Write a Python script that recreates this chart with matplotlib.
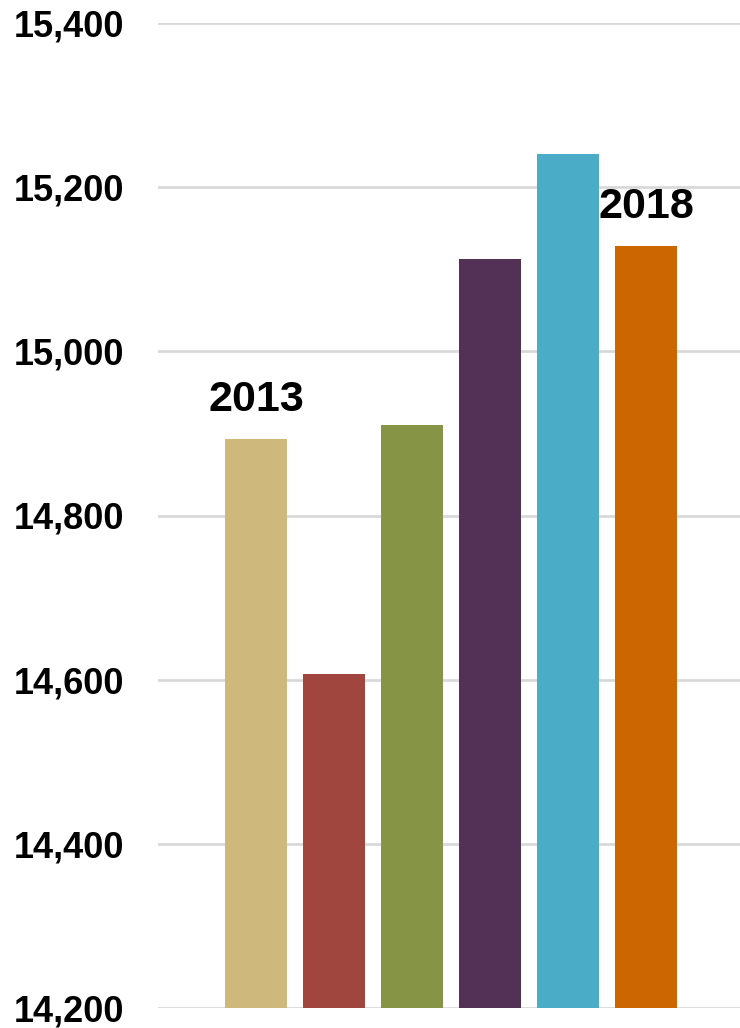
import numpy as np
import matplotlib
matplotlib.use('Agg')
from matplotlib import pyplot as plt

plt.rcParams['font.family'] = ['Liberation Sans', 'DejaVu Sans']

years = ['2013', '2014', '2015', '2016', '2017', '2018']
values = [14893, 14607, 14910, 15112, 15241, 15128]
colors = ['#CFB87C', '#A0463F', '#869445', '#533157', '#4AACC6', '#CC6600']
yticks = [14200, 14400, 14600, 14800, 15000, 15200, 15400]

fig = plt.figure(figsize=(7.4, 10.28), dpi=100)
ax = fig.add_axes([158/740, 1 - 1008/1028, 1 - 158/740, (1008 - 23)/1028])

x = np.arange(len(values))
ax.bar(x, values, width=62/78, color=colors, zorder=3)

ax.set_ylim(14200, 15400)
ax.set_xlim((158 - 256)/78, (740 - 256)/78)
ax.set_yticks(yticks)
ax.set_yticklabels(['{:,}'.format(v) for v in yticks], fontsize=26, fontweight='bold')
ax.set_xticks([])
ax.tick_params(axis='y', length=0, pad=24)
ax.grid(axis='y', color='#d9d9d9', linewidth=2, zorder=0)
for s in ax.spines.values():
    s.set_visible(False)

# only first and last year labelled
for i in [0, len(values) - 1]:
    ax.annotate(years[i], (x[i], values[i]), xytext=(0, 14), textcoords='offset points',
                ha='center', va='bottom', fontsize=31, fontweight='bold')

fig.savefig('out.png', dpi=100)
